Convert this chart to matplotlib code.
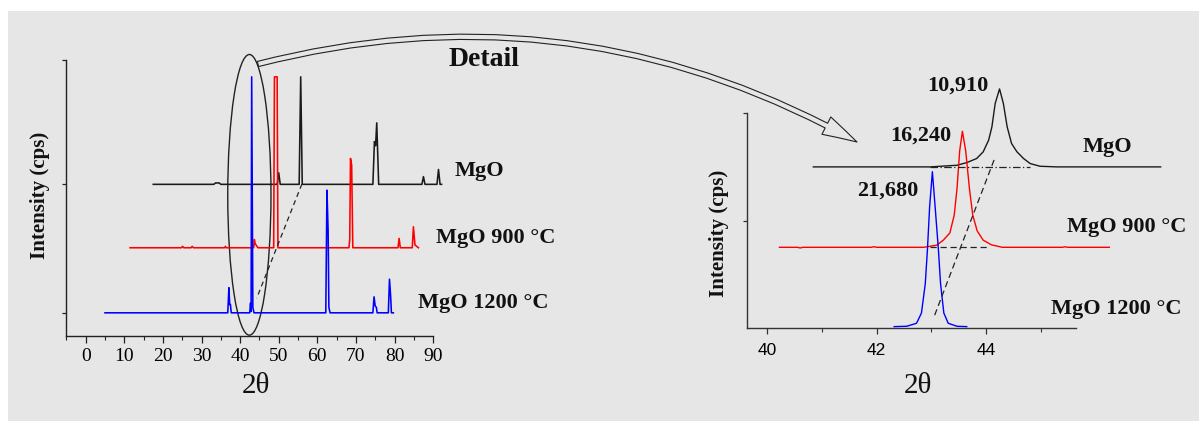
import matplotlib
matplotlib.use('Agg')
import matplotlib.pyplot as plt
from matplotlib.patches import Rectangle, Ellipse, FancyArrowPatch

# ---------------- data ----------------
series_names = ['MgO', 'MgO 900 °C', 'MgO 1200 °C']

# Left panel: full patterns (2θ, intensity above each trace's own baseline, arbitrary units)
left_offsets = [54.9, 31.9, 8.3]          # MgO, MgO 900, MgO 1200
mgo_x = [17.5, 33.2, 33.6, 34.6, 35.0, 49.6, 50.0, 50.4, 55.3, 55.7, 56.1,
         74.4, 74.8, 75.1, 75.4, 75.9, 87.1, 87.5, 87.9, 91.0, 91.4, 91.8, 92.2]
mgo_y = [0, 0, 0.5, 0.5, 0, 0, 4.2, 0, 0, 39, 0,
         0, 15.5, 14, 22.3, 0, 0, 2.8, 0, 0, 5.4, 0, 0]
mgo900_x = [11.5, 24.8, 25.1, 25.4, 27.3, 27.6, 27.9, 36.0, 36.2, 36.4, 43.5, 43.7,
            43.9, 44.6, 48.7, 48.9, 49.6, 49.8, 68.2, 68.4, 68.6, 68.9, 69.2, 80.9,
            81.2, 81.5, 84.6, 84.9, 85.3, 86.2]
mgo900_y = [0, 0, 0.5, 0, 0, 0.5, 0, 0, 0.5, 0, 0, 3.0,
            1.5, 0, 0, 62, 62, 0, 0, 3, 32.4, 30, 0, 0,
            3.4, 0, 0, 7.6, 1, 0]
mgo1200_x = [5.0, 36.8, 37.1, 37.3, 37.5, 37.7, 42.5, 42.7, 42.85, 43.0, 43.3, 43.6,
             62.2, 62.5, 62.8, 63.0, 63.3, 74.4, 74.7, 75.0, 75.3, 75.5, 78.4, 78.7,
             79.0, 79.2, 79.7]
mgo1200_y = [0, 0, 9.1, 3.0, 3.0, 0, 0, 3.5, 0.5, 85.6, 2, 0,
             0, 44.5, 30, 2, 0, 0, 5.8, 2.5, 2.0, 0, 0, 12.2,
             6, 0, 0]

# Right panel: detail of the (200) peak, counts per second above each baseline
detail_offsets = [22500, 11250, 150]
det_mgo_x = [40.84, 42.98, 43.47, 43.65, 43.83, 43.95, 44.05, 44.11, 44.17, 44.25,
             44.32, 44.39, 44.47, 44.57, 44.69, 44.81, 44.99, 45.3, 47.2]
det_mgo_y = [0, 0, 230, 600, 1170, 2100, 3740, 5600, 8870, 10910,
             8870, 5600, 3270, 2100, 1170, 470, 90, 0, 0]
det_900_x = [40.22, 40.55, 40.6, 40.65, 41.9, 41.95, 42.0, 42.86, 43.1, 43.22, 43.34,
             43.42, 43.47, 43.52, 43.57, 43.63, 43.7, 43.76, 43.84, 43.95, 44.1,
             44.3, 45.4, 45.45, 45.5, 46.26]
det_900_y = [0, 0, -90, 0, 0, 80, 0, 0, 300, 1000, 2000,
             4500, 8120, 13500, 16240, 13500, 8120, 4500, 2300, 1000, 350,
             0, 0, 70, 0, 0]
det_1200_x = [42.32, 42.55, 42.73, 42.82, 42.89, 42.93, 42.97, 43.02, 43.07, 43.13,
              43.17, 43.23, 43.31, 43.47, 43.65]
det_1200_y = [0, 50, 470, 1900, 6000, 10840, 16800, 21680, 16800, 10840,
              6000, 1900, 470, 50, 0]
peak_labels = ['10,910', '16,240', '21,680']

# guide lines
left_guide_x = [56.0, 44.3]
left_guide_y = [55.0, 13.6]
right_guide_x = [44.15, 43.04]
right_guide_y = [23478, 1316]
mgo_base_guide_x = [42.98, 44.81]
red_base_guide_x = [42.98, 44.08]

left_xticks = [0, 10, 20, 30, 40, 50, 60, 70, 80, 90]
right_xticks = [40, 42, 44]

# ---------------- figure ----------------
W, H = 1199, 421
BG = '#e6e6e6'
SERIF = 'Liberation Serif'
SANS = 'Liberation Sans'
plt.rcParams['font.family'] = [SERIF, 'DejaVu Serif']

fig = plt.figure(figsize=(W / 100, H / 100), dpi=100)
fig.patch.set_facecolor('white')


def fx(px):
    return px / W


def fy(py):
    return 1 - py / H


fig.patches.append(Rectangle((fx(8), 0), 1 - fx(8), fy(11), transform=fig.transFigure,
                             fc=BG, ec='none', zorder=-10))

colors = ['#1a1a1a', '#ff0000', '#0000ff']

# ----- left axes -----
ax1 = fig.add_axes([fx(66.4), fy(335.7), fx(433.1 - 66.4), (335.7 - 60) / H])
ax1.set_facecolor('none')
ax1.set_xlim(-5, 90)
ax1.set_ylim(0, 100)
for xs, ys, off, c in zip([mgo_x, mgo900_x, mgo1200_x], [mgo_y, mgo900_y, mgo1200_y],
                          left_offsets, colors):
    ax1.plot(xs, [v + off for v in ys], color=c, lw=1.15, clip_on=False)
ax1.plot(left_guide_x, left_guide_y, color='#222222', lw=0.9, ls=(0, (4, 3)))
ax1.add_patch(Ellipse((42.4, 51.1), 11.2, 101.8, fill=False, ec='#222222', lw=1.0,
                      clip_on=False))
for s in ['top', 'right']:
    ax1.spines[s].set_visible(False)
for s in ['left', 'bottom']:
    ax1.spines[s].set_linewidth(1.0)
    ax1.spines[s].set_color('#222222')
ax1.set_xticks(left_xticks)
ax1.set_xticks([x + 5 for x in [-10] + left_xticks], minor=True)
ax1.set_xticklabels([str(t) for t in left_xticks], fontsize=14, family=SERIF)
ax1.set_yticks([left_offsets[2], left_offsets[0], 100])
ax1.set_yticklabels([])
ax1.tick_params(axis='x', which='major', direction='out', length=5, width=0.9, pad=3.8,
                color='#222222')
ax1.tick_params(axis='x', which='minor', direction='out', length=3, width=0.8,
                color='#222222')
ax1.tick_params(axis='y', direction='out', length=3, width=0.9, color='#222222')
ax1.set_xlim(-5, 90)

# ----- right axes -----
ax2 = fig.add_axes([fx(746.7), fy(327.7), fx(1076 - 746.7), (327.7 - 113.3) / H])
ax2.set_facecolor('none')
ax2.set_xlim(39.62, 45.65)
ax2.set_ylim(0, 30000)
for xs, ys, off, c in zip([det_mgo_x, det_900_x, det_1200_x],
                          [det_mgo_y, det_900_y, det_1200_y], detail_offsets, colors):
    ax2.plot(xs, [v + off for v in ys], color=c, lw=1.0, clip_on=False)
ax2.plot(right_guide_x, right_guide_y, color='#222222', lw=0.9, ls=(0, (5, 3)))
ax2.plot(mgo_base_guide_x, [detail_offsets[0]] * 2, color='#222222', lw=0.9,
         ls=(0, (6, 2, 1, 2)))
ax2.plot(red_base_guide_x, [detail_offsets[1]] * 2, color='#222222', lw=0.9,
         ls=(0, (5, 3)))
for s in ['top', 'right']:
    ax2.spines[s].set_visible(False)
for s in ['left', 'bottom']:
    ax2.spines[s].set_linewidth(1.0)
    ax2.spines[s].set_color('#333333')
ax2.set_xticks(right_xticks)
ax2.set_xticks([41, 43, 45], minor=True)
ax2.set_xticklabels([str(t) for t in right_xticks], fontsize=12.5, family=SANS)
ax2.set_yticks([15000, 30000])
ax2.set_yticklabels([])
ax2.tick_params(axis='x', which='major', direction='out', length=4, width=0.9, pad=7,
                color='#333333')
ax2.tick_params(axis='x', which='minor', direction='out', length=3, width=0.8,
                color='#333333')
ax2.tick_params(axis='y', direction='out', length=3, width=0.9, color='#333333')

# ----- texts -----
bold = dict(fontsize=16, fontweight='bold', family=SERIF, color='#111111')
fig.text(fx(455), fy(176), series_names[0], ha='left', va='baseline', **bold)
fig.text(fx(436), fy(243), series_names[1], ha='left', va='baseline', **bold)
fig.text(fx(418), fy(308), series_names[2], ha='left', va='baseline', **bold)
fig.text(fx(1083), fy(151.7), series_names[0], ha='left', va='baseline', **bold)
fig.text(fx(1066.7), fy(231.7), series_names[1], ha='left', va='baseline', **bold)
fig.text(fx(1050.7), fy(314), series_names[2], ha='left', va='baseline', **bold)
fig.text(fx(927.3), fy(90.7), peak_labels[0], ha='left', va='baseline', **bold)
fig.text(fx(890), fy(141), peak_labels[1], ha='left', va='baseline', **bold)
fig.text(fx(856.7), fy(196), peak_labels[2], ha='left', va='baseline', **bold)
fig.text(fx(484), fy(66), 'Detail', ha='center', va='baseline', fontsize=20,
         fontweight='bold', family=SERIF, color='#111111')
ylab = dict(fontsize=15, fontweight='bold', family=SERIF, rotation=90,
            ha='center', va='center', color='#111111')
fig.text(fx(40), fy(195), 'Intensity (cps)', **ylab)
fig.text(fx(719), fy(233), 'Intensity (cps)', **ylab)
xlab = dict(fontsize=21, family=SERIF, ha='center', va='baseline', color='#111111')
fig.text(fx(256), fy(393), '2θ', **xlab)
fig.text(fx(918), fy(393), '2θ', **xlab)

# ----- curved hollow arrow -----
arrow = FancyArrowPatch(posA=(fx(258), fy(64)), posB=(fx(857), fy(142)),
                        transform=fig.transFigure,
                        arrowstyle='simple,head_length=25,head_width=14,tail_width=3.8',
                        connectionstyle='arc3,rad=-0.2', mutation_scale=1,
                        fc=BG, ec='#222222', lw=0.8, shrinkA=0, shrinkB=0, zorder=5)
fig.patches.append(arrow)

fig.savefig('out.png', dpi=100, facecolor='white')
